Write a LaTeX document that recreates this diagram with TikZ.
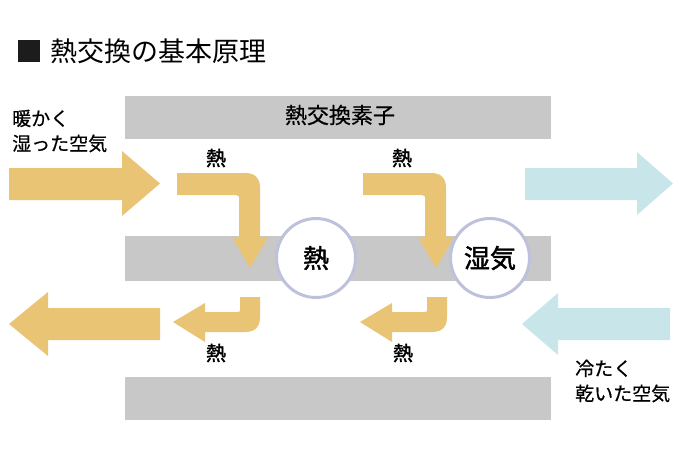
\documentclass[tikz,border=0pt]{standalone}
\usepackage{fontspec}
\setmainfont{Noto Sans CJK JP}
\newfontfamily\jpmedium[FakeBold=0.6]{Noto Sans CJK JP}
\newfontfamily\jpfutoi[FakeBold=1.6]{Noto Sans CJK JP}
\definecolor{netsu}{HTML}{E8C474}
\definecolor{kuuki}{HTML}{C8E6E9}
\definecolor{soshi}{HTML}{C8C8C8}
\definecolor{waku}{HTML}{BEC1DB}
\definecolor{kuro}{HTML}{1C1C1C}
\tikzset{
  midashi/.style={anchor=west, inner sep=0pt, font=\fontsize{27}{30}\selectfont},
  soshitext/.style={inner sep=0pt, font=\jpmedium\fontsize{22}{26}\selectfont},
  netsulabel/.style={inner sep=0pt, font=\jpfutoi\fontsize{20}{22}\selectfont},
  maru/.style={circle, draw=waku, line width=3pt, fill=white, minimum size=79pt,
    inner sep=0pt, font=\jpfutoi\fontsize{26}{30}\selectfont},
  setsumei/.style={anchor=west, align=left, inner sep=0pt,
    font=\jpmedium\fontsize{19}{25}\selectfont}
}
\begin{document}
\begin{tikzpicture}[x=1pt, y=-1pt]
  \useasboundingbox (0,0) rectangle (681,461);

  % 見出し
  \fill[kuro] (18,40) rectangle (40,62);
  \node[midashi] (title) at (50,51) {熱交換の基本原理};

  % 熱交換素子の板
  \fill[soshi] (125,96) rectangle (551,139);
  \fill[soshi] (125,236) rectangle (551,281);
  \fill[soshi] (125,377) rectangle (551,420);
  \node[soshitext] (soshi) at (340,115) {熱交換素子};

  % 大きい矢印（空気の流れ）
  \fill[netsu] (9,168) -- (122,168) -- (122,151) -- (160,183.5) -- (122,216)
    -- (122,200) -- (9,200) -- cycle;
  \fill[kuuki] (525,168) -- (637,168) -- (637,152) -- (673,183.5) -- (637,215)
    -- (637,200) -- (525,200) -- cycle;
  \fill[netsu] (160,308) -- (48,308) -- (48,292) -- (9,324) -- (48,356)
    -- (48,340) -- (160,340) -- cycle;
  \fill[kuuki] (670,308) -- (558,308) -- (558,293) -- (522,324) -- (558,355)
    -- (558,340) -- (670,340) -- cycle;

  % 上側の曲がった矢印
  \foreach \dx/\nm in {0/a, 186/b} {
    \begin{scope}[shift={(\dx,0)}]
      \fill[netsu] (177,173) -- (245,173) .. controls (255,173) and (260,178) .. (260,188)
        -- (260,237) -- (268,237) -- (250,268) -- (232,237) -- (239,237) -- (239,198)
        .. controls (239,196) .. (236,195) -- (177,195) -- cycle;
      \node[netsulabel] (ue\nm) at (216,158) {熱};
    \end{scope}
  }

  % 下側の曲がった矢印
  \foreach \dx/\nm in {0/a, 187/b} {
    \begin{scope}[shift={(\dx,0)}]
      \fill[netsu] (260,297) -- (260,317) .. controls (260,327) and (255,332) .. (245,332)
        -- (205,332) -- (205,342) -- (173,322) -- (205,303) -- (205,312) -- (237,312)
        .. controls (240,312) .. (240,309) -- (240,297) -- cycle;
      \node[netsulabel] (shita\nm) at (216,353) {熱};
    \end{scope}
  }

  % 丸
  \node[maru] (netsu) at (316,258) {熱};
  \node[maru] (shikke) at (490,258) {湿気};

  % 説明
  \node[setsumei] (atataka) at (12,131) {暖かく\\湿った空気};
  \node[setsumei] (tsumeta) at (575,381) {冷たく\\乾いた空気};
\end{tikzpicture}
\end{document}
